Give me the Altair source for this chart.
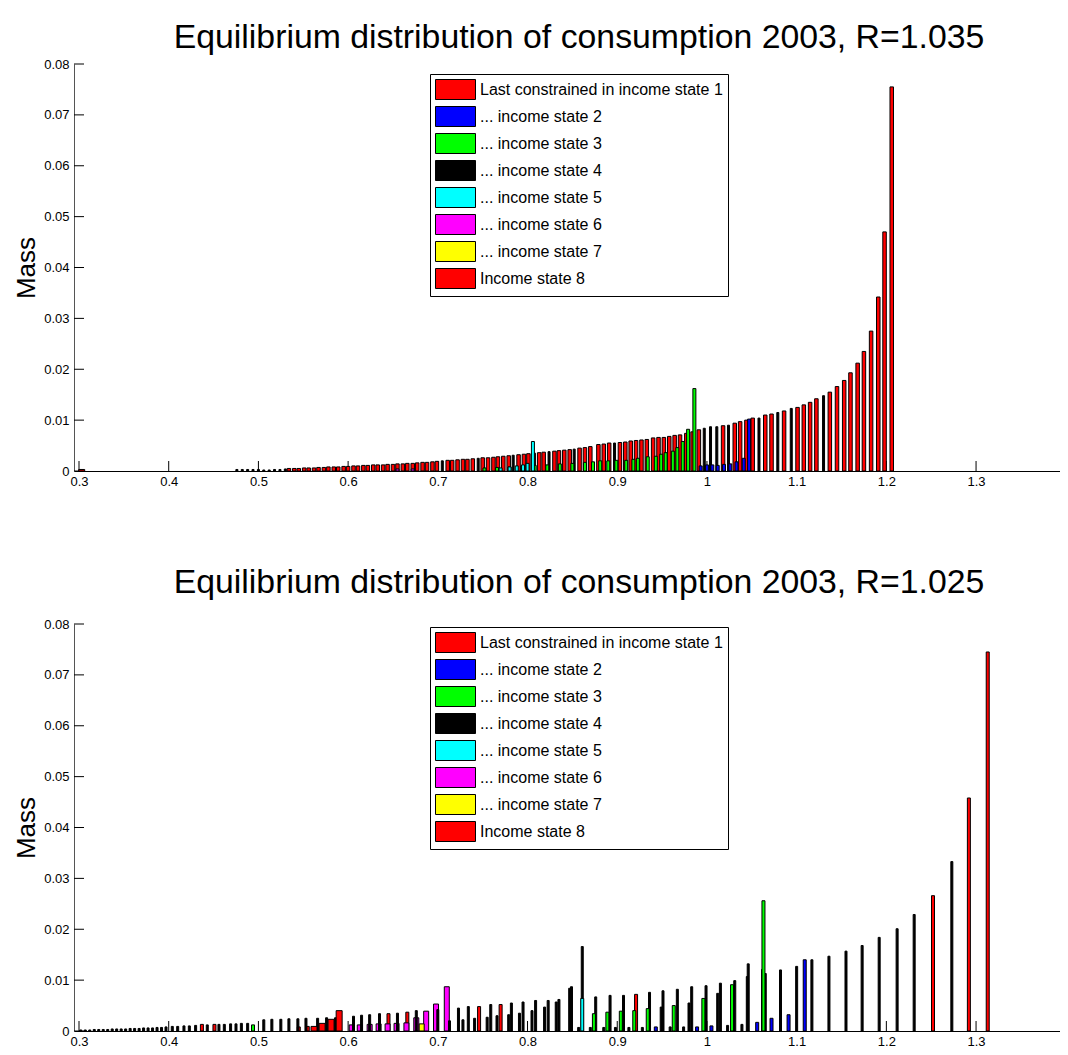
import altair as alt
import pandas as pd

STATE_NAMES = [
    "Last constrained in income state 1",
    "... income state 2",
    "... income state 3",
    "... income state 4",
    "... income state 5",
    "... income state 6",
    "... income state 7",
    "Income state 8",
]
STATE_COLORS = ["#ff0000", "#0000ff", "#00ff00", "#000000", "#00ffff", "#ff00ff", "#ffff00", "#ff0000"]

X_TICKS = [0.3, 0.4, 0.5, 0.6, 0.7, 0.8, 0.9, 1.0, 1.1, 1.2, 1.3]
Y_TICKS = [0, 0.01, 0.02, 0.03, 0.04, 0.05, 0.06, 0.07, 0.08]

TITLE_TOP = "Equilibrium distribution of consumption 2003, R=1.035"
TITLE_BOT = "Equilibrium distribution of consumption 2003, R=1.025"

# ---------------- R = 1.035 ----------------
TOP_S1_X = [0.303]
TOP_S1_Y = [0.0003]

TOP_S2_X = [0.993, 1.000, 1.006, 1.012, 1.019, 1.026, 1.033, 1.041, 1.047]
TOP_S2_Y = [0.0010, 0.0012, 0.0012, 0.0011, 0.0013, 0.0014, 0.0018, 0.0025, 0.0102]

TOP_S3_X = [0.752, 0.766, 0.780, 0.794, 0.808, 0.822, 0.836, 0.850, 0.864, 0.873,
            0.881, 0.890, 0.899, 0.910, 0.918, 0.923, 0.934, 0.943, 0.949, 0.954,
            0.962, 0.967, 0.973, 0.979, 0.986]
TOP_S3_Y = [0.0006, 0.0007, 0.0008, 0.0010, 0.0011, 0.0012, 0.0014, 0.0015, 0.0017, 0.0018,
            0.0020, 0.0020, 0.0021, 0.0021, 0.0023, 0.0025, 0.0028, 0.0029, 0.0033, 0.0036,
            0.0039, 0.0046, 0.0058, 0.0082, 0.0162]

TOP_S4_X = [0.476, 0.482, 0.488, 0.494, 0.500, 0.506, 0.512, 0.518, 0.524, 0.530,
            0.705, 0.745, 0.784, 0.824, 0.852, 0.897, 0.997, 1.004, 1.011, 1.024,
            1.058, 1.079, 1.094, 1.130]
TOP_S4_Y = [0.0003, 0.0003, 0.0003, 0.0003, 0.0003, 0.0002, 0.0002, 0.0003, 0.0003, 0.0004,
            0.0020, 0.0025, 0.0031, 0.0038, 0.0043, 0.0055, 0.0084, 0.0087, 0.0087, 0.0090,
            0.0104, 0.0115, 0.0123, 0.0148]

TOP_S5_X = [0.770, 0.780, 0.788, 0.795, 0.800, 0.806]
TOP_S5_Y = [0.0006, 0.0008, 0.0010, 0.0012, 0.0015, 0.0058]

TOP_S6_X = [0.655, 0.672]
TOP_S6_Y = [0.0004, 0.0004]

TOP_S7_X = []
TOP_S7_Y = []

TOP_S8_X = [0.534, 0.540, 0.545, 0.551, 0.556, 0.562, 0.567, 0.573, 0.578, 0.584,
            0.589, 0.595, 0.600, 0.606, 0.611, 0.617, 0.622, 0.628, 0.633, 0.639,
            0.644, 0.650, 0.655, 0.661, 0.666, 0.672, 0.677, 0.683, 0.688, 0.694, 0.699,
            0.711, 0.716, 0.722, 0.728, 0.733, 0.739, 0.750, 0.756, 0.762, 0.767,
            0.773, 0.779, 0.790, 0.796, 0.801, 0.807, 0.813, 0.818, 0.830, 0.835,
            0.841, 0.847, 0.858, 0.864, 0.870,
            0.879, 0.885, 0.891, 0.903, 0.909, 0.915, 0.921, 0.927, 0.933, 0.940,
            0.946, 0.952, 0.958, 0.964, 0.970, 0.977, 0.984, 0.991, 1.018, 1.031,
            1.037, 1.044, 1.051, 1.065, 1.072, 1.086, 1.101, 1.108, 1.115, 1.122,
            1.137, 1.145, 1.153, 1.160, 1.168, 1.175, 1.183, 1.191, 1.198, 1.206]
TOP_S8_Y = [0.0005, 0.0005, 0.0005, 0.0006, 0.0006, 0.0006, 0.0007, 0.0007, 0.0008, 0.0008,
            0.0008, 0.0009, 0.0009, 0.0010, 0.0010, 0.0011, 0.0011, 0.0012, 0.0012, 0.0012,
            0.0013, 0.0013, 0.0014, 0.0014, 0.0015, 0.0015, 0.0016, 0.0017, 0.0017, 0.0018, 0.0019,
            0.0021, 0.0021, 0.0022, 0.0023, 0.0023, 0.0024, 0.0026, 0.0026, 0.0027, 0.0028,
            0.0029, 0.0030, 0.0032, 0.0033, 0.0034, 0.0035, 0.0036, 0.0037, 0.0039, 0.0040,
            0.0041, 0.0042, 0.0045, 0.0046, 0.0048,
            0.0052, 0.0053, 0.0055, 0.0056, 0.0057, 0.0059, 0.0060, 0.0061, 0.0062, 0.0065,
            0.0066, 0.0066, 0.0068, 0.0070, 0.0071, 0.0074, 0.0077, 0.0081, 0.0089, 0.0094,
            0.0097, 0.0100, 0.0104, 0.0110, 0.0112, 0.0118, 0.0125, 0.0130, 0.0135, 0.0142,
            0.0155, 0.0166, 0.0178, 0.0193, 0.0212, 0.0235, 0.0275, 0.0342, 0.0470, 0.0755]

# ---------------- R = 1.025 ----------------
BOT_S1_X = [0.562, 0.571, 0.581, 0.590]
BOT_S1_Y = [0.0009, 0.0015, 0.0023, 0.0040]

BOT_S2_X = [0.943, 0.989, 1.005, 1.056, 1.072, 1.091, 1.109]
BOT_S2_Y = [0.0008, 0.0008, 0.0010, 0.0017, 0.0025, 0.0032, 0.0140]

BOT_S3_X = [0.494, 0.874, 0.889, 0.904, 0.919, 0.934, 0.963, 0.996, 1.028, 1.063]
BOT_S3_Y = [0.0012, 0.0034, 0.0037, 0.0039, 0.0040, 0.0044, 0.0050, 0.0064, 0.0091, 0.0256]

BOT_S4_X = [0.302, 0.307, 0.312, 0.317, 0.322, 0.327, 0.332, 0.337, 0.342, 0.347,
            0.352, 0.357, 0.362, 0.367, 0.372, 0.377, 0.382, 0.387, 0.392, 0.397,
            0.404, 0.410, 0.417, 0.423, 0.430, 0.443, 0.456, 0.462, 0.469, 0.475,
            0.481, 0.488,
            0.506, 0.515, 0.525, 0.534, 0.544, 0.553, 0.566, 0.576, 0.586,
            0.606, 0.615, 0.624, 0.635, 0.655, 0.676, 0.700, 0.723, 0.734, 0.759,
            0.782, 0.795, 0.809, 0.823, 0.835, 0.849, 0.861, 0.876, 0.892, 0.907,
            0.936, 0.951, 0.967, 0.983, 0.999, 1.015, 1.031, 1.046, 1.065, 1.082,
            1.100, 1.117, 1.136, 1.155, 1.173, 1.192, 1.212, 1.231, 1.273,
            0.713, 0.728, 0.741, 0.755, 0.766, 0.779, 0.791, 0.805, 0.819, 0.832,
            0.847, 0.857, 0.870, 0.885, 0.898, 0.913, 0.928, 0.949, 0.959, 0.974,
            0.980, 1.012, 1.023, 1.039, 1.045, 1.062]
BOT_S4_Y = [0.0002, 0.0002, 0.0002, 0.0003, 0.0003, 0.0003, 0.0003, 0.0004, 0.0004, 0.0004,
            0.0004, 0.0005, 0.0005, 0.0005, 0.0006, 0.0006, 0.0006, 0.0007, 0.0007, 0.0008,
            0.0009, 0.0009, 0.0010, 0.0010, 0.0011, 0.0012, 0.0013, 0.0013, 0.0014, 0.0014,
            0.0015, 0.0015,
            0.0022, 0.0023, 0.0023, 0.0024, 0.0024, 0.0025, 0.0025, 0.0026, 0.0026,
            0.0029, 0.0031, 0.0032, 0.0034, 0.0035, 0.0040, 0.0042, 0.0045, 0.0048, 0.0052,
            0.0055, 0.0057, 0.0060, 0.0060, 0.0062, 0.0087, 0.0166, 0.0067, 0.0070, 0.0070,
            0.0076, 0.0079, 0.0082, 0.0087, 0.0089, 0.0094, 0.0099, 0.0132, 0.0113, 0.0120,
            0.0127, 0.0140, 0.0147, 0.0157, 0.0168, 0.0184, 0.0201, 0.0229, 0.0333,
            0.0020, 0.0022, 0.0025, 0.0027, 0.0030, 0.0032, 0.0035, 0.0040, 0.0047, 0.0057,
            0.0084, 0.0007, 0.0007, 0.0007, 0.0007, 0.0007, 0.0007, 0.0047, 0.0008, 0.0008,
            0.0055, 0.0074, 0.0011, 0.0013, 0.0107, 0.0121]

BOT_S5_X = [0.861]
BOT_S5_Y = [0.0064]

BOT_S6_X = [0.604, 0.613, 0.624, 0.634, 0.644, 0.654, 0.665, 0.676, 0.687, 0.698, 0.710]
BOT_S6_Y = [0.0012, 0.0012, 0.0013, 0.0014, 0.0014, 0.0015, 0.0016, 0.0026, 0.0039, 0.0053, 0.0087]

BOT_S7_X = [0.682]
BOT_S7_Y = [0.0014]

BOT_S8_X = [0.437, 0.451, 0.545, 0.555, 0.645, 0.666, 0.746, 0.770, 0.921, 1.252, 1.292, 1.313]
BOT_S8_Y = [0.0013, 0.0013, 0.0008, 0.0009, 0.0034, 0.0037, 0.0048, 0.0052, 0.0072, 0.0266, 0.0458, 0.0745]

# ---------------- styling ----------------
W, H = 986, 407
FONT = "Liberation Sans"

# draw order (index into states) and bar widths in px
DRAW_ORDER = [7, 5, 6, 3, 2, 1, 4, 0]
TOP_WIDTHS = {0: 6, 1: 3, 2: 3, 3: 2, 4: 3, 5: 3, 6: 3, 7: 3.5}
BOT_WIDTHS = {0: 6, 1: 3, 2: 3, 3: 2, 4: 3, 5: 5, 6: 5, 7: 3}


def make_panel(title, series, widths, legend_y, title_offset):
    xscale = alt.Scale(domain=[0.3, 1.388], nice=False, zero=False)
    yscale = alt.Scale(domain=[0, 0.08], nice=False, zero=True)
    xax = alt.Axis(values=X_TICKS, format="~g", tickSize=0, labelFont=FONT, labelFontSize=13,
                   labelColor="black", labelPadding=4, domainColor="black", domainWidth=1,
                   grid=False, title=None)
    yax = alt.Axis(values=Y_TICKS, format="~g", tickSize=0, labelFont=FONT, labelFontSize=13,
                   labelColor="black", labelPadding=5, domainColor="#555555", domainWidth=1,
                   grid=False, title="Mass", titleFont=FONT, titleFontSize=26,
                   titleFontWeight="normal", titleColor="black", titlePadding=4)
    legend = alt.Legend(title=None, orient="none", legendX=356, legendY=legend_y,
                        direction="vertical", symbolType="M-1,-1L3,-1L3,1L-1,1Z",
                        symbolSize=400, symbolStrokeColor="black", symbolStrokeWidth=1,
                        symbolOpacity=1, labelFont=FONT, labelFontSize=16, labelColor="black",
                        labelLimit=400, labelOffset=24, rowPadding=2, strokeColor="black",
                        fillColor="white", padding=5)
    color = alt.Color("state:N", scale=alt.Scale(domain=STATE_NAMES, range=STATE_COLORS),
                      legend=legend)

    xt = alt.Chart(pd.DataFrame({"v": X_TICKS})).mark_rule(color="black", strokeWidth=1).encode(
        x=alt.X("v:Q", scale=xscale, axis=xax), y=alt.value(H), y2=alt.value(H - 10))
    yt = alt.Chart(pd.DataFrame({"v": Y_TICKS})).mark_rule(color="black", strokeWidth=1).encode(
        y=alt.Y("v:Q", scale=yscale, axis=yax), x=alt.value(0), x2=alt.value(10))

    layers = [xt, yt]
    for idx in DRAW_ORDER:
        xs, ys = series[idx]
        if not xs:
            continue
        df = pd.DataFrame({"x": xs, "y": ys, "state": STATE_NAMES[idx]})
        layers.append(
            alt.Chart(df).mark_bar(width=widths[idx], stroke="black", strokeWidth=1).encode(
                x=alt.X("x:Q", scale=xscale, axis=xax),
                y=alt.Y("y:Q", scale=yscale, axis=yax, stack=None),
                color=color,
            )
        )
    return alt.layer(*layers).properties(
        width=W, height=H,
        title=alt.TitleParams(text=title, font=FONT, fontSize=33.8, fontWeight="normal",
                              color="black", anchor="middle", offset=title_offset, dx=12),
    )


top_series = [(TOP_S1_X, TOP_S1_Y), (TOP_S2_X, TOP_S2_Y), (TOP_S3_X, TOP_S3_Y), (TOP_S4_X, TOP_S4_Y),
              (TOP_S5_X, TOP_S5_Y), (TOP_S6_X, TOP_S6_Y), (TOP_S7_X, TOP_S7_Y), (TOP_S8_X, TOP_S8_Y)]
bot_series = [(BOT_S1_X, BOT_S1_Y), (BOT_S2_X, BOT_S2_Y), (BOT_S3_X, BOT_S3_Y), (BOT_S4_X, BOT_S4_Y),
              (BOT_S5_X, BOT_S5_Y), (BOT_S6_X, BOT_S6_Y), (BOT_S7_X, BOT_S7_Y), (BOT_S8_X, BOT_S8_Y)]

top = make_panel(TITLE_TOP, top_series, TOP_WIDTHS, 10, 3)
bot = make_panel(TITLE_BOT, bot_series, BOT_WIDTHS, 3, 18)

chart = (
    alt.vconcat(top, bot, spacing=78)
    .resolve_scale(color="independent")
    .resolve_legend(color="independent")
    .properties(padding={"left": 5, "top": 13, "right": 0, "bottom": 0})
    .configure_view(stroke=None)
)

chart.save("out.html", embed_options={"renderer": "svg", "actions": False})
